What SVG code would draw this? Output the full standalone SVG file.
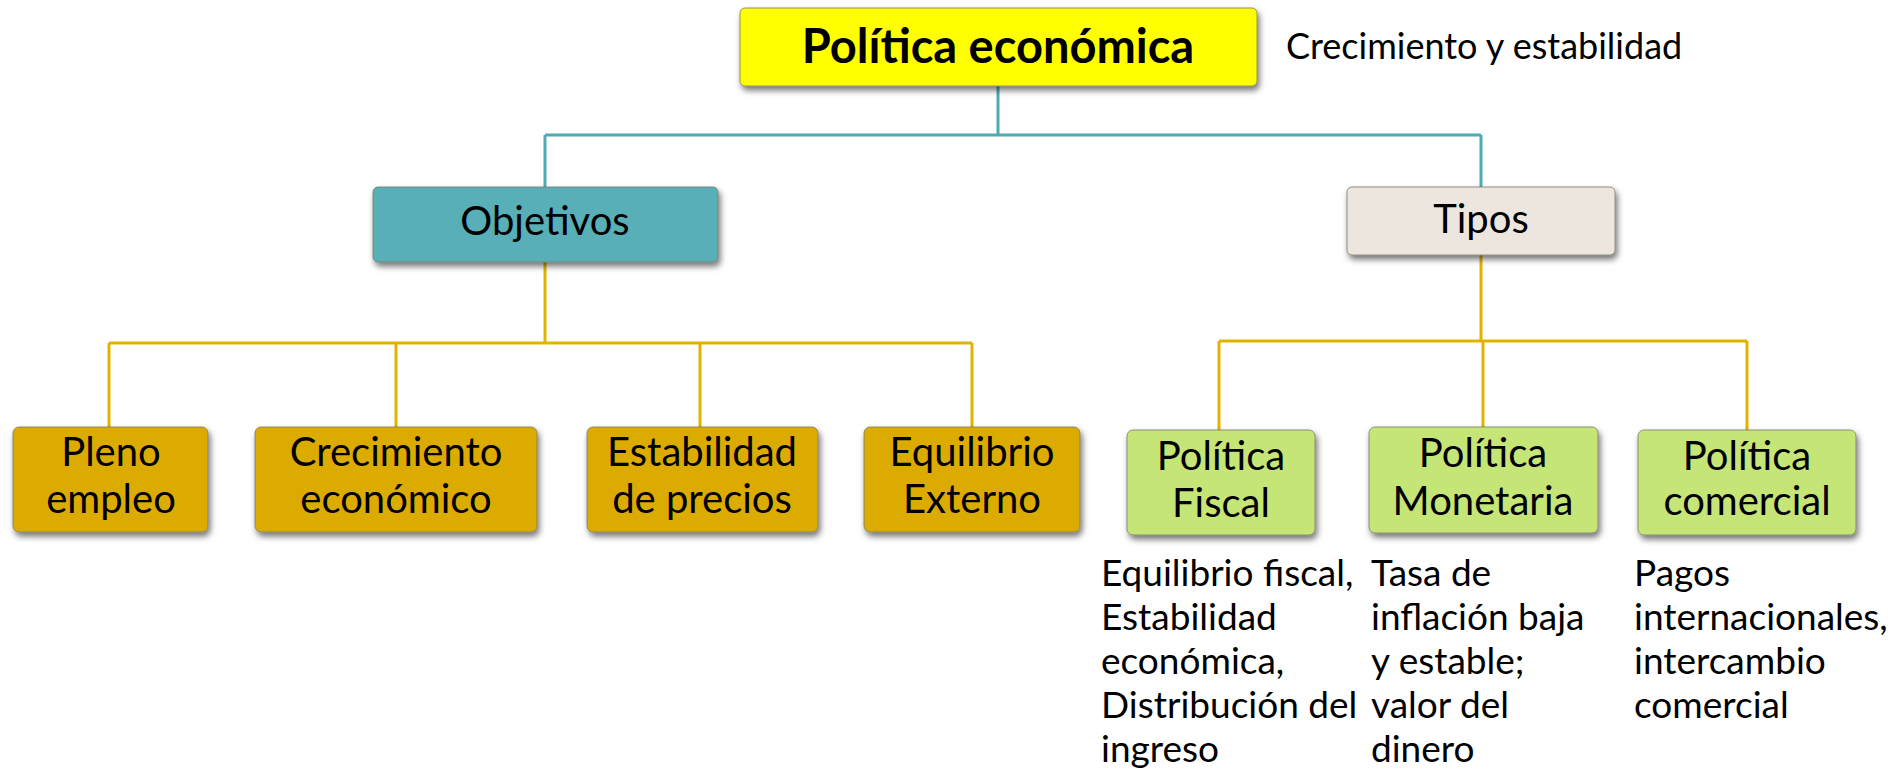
<svg xmlns="http://www.w3.org/2000/svg" width="1888" height="774" viewBox="0 0 1888 774">
<defs>
<filter id="sh" x="-10%" y="-20%" width="125%" height="150%">
<feDropShadow dx="2" dy="4" stdDeviation="3" flood-color="#000" flood-opacity="0.55"/>
</filter>
<style>
text{font-family:Lato,"Liberation Sans",sans-serif;fill:#000}
.box{filter:url(#sh);stroke:#7a7a6a;stroke-width:0.8}
.gold{fill:#dcab00}
.green{fill:#c5e577}
.bt{font-size:40px;text-anchor:middle}
.desc{font-size:37px}
.teal{stroke:#4eabb4;stroke-width:3;fill:none}
.gl{stroke:#e1b300;stroke-width:3;fill:none}
</style>
</defs>
<g id="connectors">
<path class="teal" d="M998 86V135M545 135H1481M545 135V188M1481 135V188"/>
<path class="gl" d="M545 262V343M109 343H972M109 343V427M396 343V427M700 343V427M972 343V427"/>
<path class="gl" d="M1481 255V341M1219 341H1747M1219 341V430M1483 341V427M1747 341V430"/>
</g>
<g id="politica-economica">
<rect class="box" x="740" y="8" width="517" height="78" rx="5" fill="#ffff00"/>
<text x="998" y="63" font-size="47" font-weight="bold" text-anchor="middle">Política económica</text>
</g>
<g id="nota">
<text x="1286" y="59" font-size="36">Crecimiento y estabilidad</text>
</g>
<g id="objetivos">
<rect class="box" x="373" y="187" width="345" height="75" rx="5" fill="#58afb8"/>
<text class="bt" x="545" y="235">Objetivos</text>
</g>
<g id="tipos">
<rect class="box" x="1347" y="187" width="268" height="68" rx="5" fill="#ede6df"/>
<text class="bt" x="1481" y="233">Tipos</text>
</g>
<g id="pleno-empleo">
<rect class="box gold" x="13" y="427" width="195" height="105" rx="6"/>
<text class="bt" x="111" y="466">Pleno</text>
<text class="bt" x="111" y="513">empleo</text>
</g>
<g id="crecimiento-economico">
<rect class="box gold" x="255" y="427" width="282" height="105" rx="6"/>
<text class="bt" x="396" y="466">Crecimiento</text>
<text class="bt" x="396" y="513">económico</text>
</g>
<g id="estabilidad-precios">
<rect class="box gold" x="587" y="427" width="231" height="105" rx="6"/>
<text class="bt" x="702" y="466">Estabilidad</text>
<text class="bt" x="702" y="513">de precios</text>
</g>
<g id="equilibrio-externo">
<rect class="box gold" x="864" y="427" width="216" height="105" rx="6"/>
<text class="bt" x="972" y="466">Equilibrio</text>
<text class="bt" x="972" y="513">Externo</text>
</g>
<g id="politica-fiscal">
<rect class="box green" x="1127" y="430" width="188" height="105" rx="6"/>
<text class="bt" x="1221" y="470">Política</text>
<text class="bt" x="1221" y="517">Fiscal</text>
</g>
<g id="politica-monetaria">
<rect class="box green" x="1369" y="427" width="229" height="106" rx="6"/>
<text class="bt" x="1483" y="467">Política</text>
<text class="bt" x="1483" y="515">Monetaria</text>
</g>
<g id="politica-comercial">
<rect class="box green" x="1638" y="430" width="218" height="105" rx="6"/>
<text class="bt" x="1747" y="470">Política</text>
<text class="bt" x="1747" y="515">comercial</text>
</g>
<g id="desc-fiscal">
<text class="desc" x="1101" y="586">Equilibrio fiscal,</text>
<text class="desc" x="1101" y="630">Estabilidad</text>
<text class="desc" x="1101" y="674">económica,</text>
<text class="desc" x="1101" y="718">Distribución del</text>
<text class="desc" x="1101" y="762">ingreso</text>
</g>
<g id="desc-monetaria">
<text class="desc" x="1371" y="586">Tasa de</text>
<text class="desc" x="1371" y="630">inflación baja</text>
<text class="desc" x="1371" y="674">y estable;</text>
<text class="desc" x="1371" y="718">valor del</text>
<text class="desc" x="1371" y="762">dinero</text>
</g>
<g id="desc-comercial">
<text class="desc" x="1634" y="586">Pagos</text>
<text class="desc" x="1634" y="630">internacionales,</text>
<text class="desc" x="1634" y="674">intercambio</text>
<text class="desc" x="1634" y="718">comercial</text>
</g>
</svg>
